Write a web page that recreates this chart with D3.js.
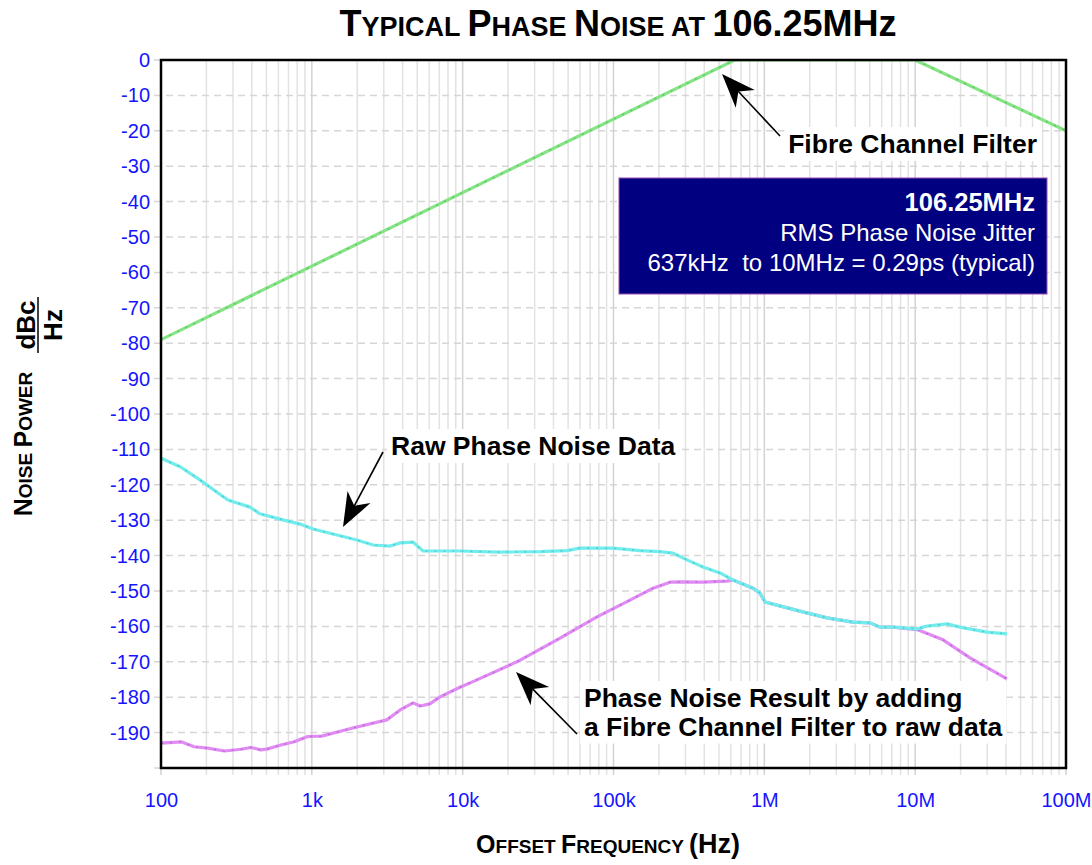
<!DOCTYPE html>
<html>
<head>
<meta charset="utf-8">
<script src="https://d3js.org/d3.v7.min.js"></script>
<style>
  body { margin: 0; background: #fff; }
  text { font-family: "Liberation Sans", Arial, Helvetica, sans-serif; }
</style>
</head>
<body>
<svg id="chart" width="1092" height="865"></svg>
<script>
    // raw phase noise data (cyan)
    const rawFreq = [100, 134, 181, 239, 278, 389, 453, 615, 835, 1020,
        1380, 1990, 2550, 3300, 3850, 4690, 5460, 9600, 17700, 32600,
        49200, 60000, 99300, 150000, 203000, 248000, 307000, 392000, 508000, 620000,
        841000, 936000, 1010000, 1210000, 1800000, 2600000, 3870000, 5020000, 5850000, 7130000,
        10300000, 12000000, 16300000, 19800000, 29900000, 40600000];
    const rawDb = [-112.5, -114.9, -118.6, -122.3, -124.3, -126.3, -128.2, -129.7, -131.1, -132.5,
        -133.9, -135.6, -137.0, -137.3, -136.4, -136.2, -138.7, -138.7, -139.0, -138.9,
        -138.6, -137.9, -137.9, -138.6, -138.9, -139.3, -141.2, -143.2, -144.9, -146.9,
        -149.2, -150.6, -153.1, -154.0, -155.9, -157.6, -158.8, -159.0, -160.2, -160.2,
        -160.7, -159.9, -159.3, -160.2, -161.6, -162.1];

    // result after the fibre channel filter (magenta)
    const resultFreq = [100, 136, 166, 204, 263, 339, 395, 460, 510, 624,
        765, 940, 1160, 1870, 3140, 3850, 4690, 5220, 6050, 7080,
        9600, 11700, 22900, 42200, 77800, 123000, 183000, 237000, 276000, 392000,
        565000, 620000, 841000, 936000, 1010000, 1210000, 1800000, 2600000, 3870000, 5020000,
        5850000, 7130000, 10300000, 15300000, 23100000, 40600000];
    const resultDb = [-193.0, -192.6, -194.0, -194.4, -195.2, -194.7, -194.2, -194.9, -194.6, -193.5,
        -192.6, -191.1, -191.0, -188.7, -186.4, -183.6, -181.6, -182.5, -181.9, -179.9,
        -177.2, -175.6, -170.0, -163.8, -157.3, -153.0, -149.2, -147.5, -147.4, -147.5,
        -147.2, -146.9, -149.2, -150.6, -153.1, -154.0, -155.9, -157.6, -158.8, -159.0,
        -160.2, -160.2, -160.9, -163.8, -168.9, -174.8];

    // fibre channel filter mask (green)
    const filterFreq = [100, 637000, 10000000, 100000000];
    const filterDb = [-79, 0, 0, -20];

    const yTicks = [0, -10, -20, -30, -40, -50, -60, -70, -80, -90, -100,
        -110, -120, -130, -140, -150, -160, -170, -180, -190];
    const xTickValues = [1e2, 1e3, 1e4, 1e5, 1e6, 1e7, 1e8];
    const xTickLabels = ["100", "1k", "10k", "100k", "1M", "10M", "100M"];

    // layout
    const margin = {top: 60, right: 26, bottom: 97, left: 161};
    const svg = d3.select("#chart"),
        width = +svg.attr("width") - margin.left - margin.right,
        height = +svg.attr("height") - margin.top - margin.bottom;

    const x = d3.scaleLog().domain([1e2, 1e8]).range([0, width]);
    const y = d3.scaleLinear().domain([-200, 0]).range([height, 0]);

    const g = svg.append("g")
        .attr("transform", "translate(" + margin.left + "," + margin.top + ")");

    svg.append("defs").append("clipPath").attr("id", "plotClip")
        .append("rect").attr("width", width).attr("height", height);

    // grid: vertical lines at 1..9 of every decade
    var minor = [];
    for (var e = 2; e < 8; e++) {
        for (var m = 1; m < 10; m++) minor.push(m * Math.pow(10, e));
    }
    minor.push(1e8);
    g.append("g").selectAll("line")
        .data(minor)
        .enter().append("line")
        .attr("x1", d => x(d)).attr("x2", d => x(d))
        .attr("y1", 0).attr("y2", height + 7)
        .attr("stroke", d => (Math.log10(d) % 1 === 0) ? "#d2d2d2" : "#e2e2e2")
        .attr("stroke-width", 1.5);

    // grid: horizontal dashed lines every 10 dB
    g.append("g").selectAll("line")
        .data(d3.range(-200, 1, 10))
        .enter().append("line")
        .attr("x1", -7).attr("x2", width)
        .attr("y1", d => y(d)).attr("y2", d => y(d))
        .attr("stroke", "#d6d6d6")
        .attr("stroke-width", 1.5)
        .attr("stroke-dasharray", "7,5");

    // curves
    function series(fr, db) {
        return fr.map((f, i) => [f, db[i]]);
    }
    const line = d3.line().x(d => x(d[0])).y(d => y(d[1]));
    const curves = [
        {data: series(filterFreq, filterDb), light: "#86e486", dark: "#45b845"},
        {data: series(resultFreq, resultDb), light: "#e08cf2", dark: "#a64fd0"},
        {data: series(rawFreq, rawDb), light: "#72ecec", dark: "#34bcbc"}
    ];
    const lines = g.append("g").attr("clip-path", "url(#plotClip)");
    curves.forEach(function (c) {
        lines.append("path").datum(c.data)
            .attr("d", line).attr("fill", "none")
            .attr("stroke", c.light).attr("stroke-width", 3.2)
            .attr("stroke-linejoin", "round");
        lines.append("path").datum(c.data)
            .attr("d", line).attr("fill", "none")
            .attr("stroke", c.dark).attr("stroke-width", 1.6)
            .attr("stroke-opacity", 0.55)
            .attr("stroke-dasharray", "2,7");
    });

    // frame
    g.append("rect").attr("width", width).attr("height", height)
        .attr("fill", "none").attr("stroke", "#000").attr("stroke-width", 2.5);

    // axes
    const yAxis = g.append("g")
        .call(d3.axisLeft(y).tickValues(yTicks).tickSize(0).tickPadding(11)
            .tickFormat(d => String(d)));
    const xAxis = g.append("g").attr("transform", "translate(0," + height + ")")
        .call(d3.axisBottom(x).tickValues(xTickValues).tickSize(0).tickPadding(25)
            .tickFormat((d, i) => xTickLabels[i]));
    [yAxis, xAxis].forEach(function (a) {
        a.select(".domain").remove();
        a.selectAll("text")
            .attr("fill", "#1414ff")
            .style("font-size", "20px")
            .style("font-family", '"Liberation Sans", Arial, sans-serif');
    });

    // small caps helper
    function smallCaps(sel, parts) {
        parts.forEach(function (p) {
            sel.append("tspan").style("font-size", p[1] + "px").text(p[0]);
        });
        return sel;
    }

    // title
    smallCaps(svg.append("text")
        .attr("x", 618).attr("y", 36)
        .attr("text-anchor", "middle").attr("font-weight", "bold"),
        [["T", 36], ["YPICAL ", 27], ["P", 36], ["HASE ", 27], ["N", 36], ["OISE ", 27],
            ["AT ", 27], ["106.25MHz", 36]]);

    // x axis title
    smallCaps(svg.append("text")
        .attr("x", 608).attr("y", 853)
        .attr("text-anchor", "middle").attr("font-weight", "bold"),
        [["O", 25], ["FFSET ", 19], ["F", 25], ["REQUENCY ", 19], ["(Hz)", 27]]);

    // y axis title
    smallCaps(svg.append("text")
        .attr("transform", "translate(32,444) rotate(-90)")
        .attr("text-anchor", "middle").attr("font-weight", "bold"),
        [["N", 25], ["OISE ", 19], ["P", 25], ["OWER", 19]]);
    svg.append("text")
        .attr("transform", "translate(35,325) rotate(-90)")
        .attr("text-anchor", "middle").attr("font-weight", "bold")
        .style("font-size", "26px").text("dBc");
    svg.append("line")
        .attr("x1", 38).attr("x2", 38).attr("y1", 297).attr("y2", 353)
        .attr("stroke", "#000").attr("stroke-width", 1.5);
    svg.append("text")
        .attr("transform", "translate(62,325) rotate(-90)")
        .attr("text-anchor", "middle").attr("font-weight", "bold")
        .style("font-size", "26px").text("Hz");

    // info box
    svg.append("rect")
        .attr("x", 619).attr("y", 178).attr("width", 428).attr("height", 116)
        .attr("fill", "#000080").attr("stroke", "#a04ab0").attr("stroke-width", 1);
    const boxLines = [["106.25MHz", 211, "bold", 25.5], ["RMS Phase Noise Jitter", 241, "normal", 24],
        ["637kHz \u00a0to 10MHz = 0.29ps (typical)", 271, "normal", 24]];
    boxLines.forEach(function (b) {
        svg.append("text")
            .attr("x", 1035).attr("y", b[1])
            .attr("text-anchor", "end").attr("fill", "#fff")
            .attr("font-weight", b[2]).style("font-size", b[3] + "px")
            .text(b[0]);
    });

    // callout labels with white backing
    function label(lines, xPos, yPos, anchor) {
        const t = svg.append("text")
            .attr("x", xPos).attr("y", yPos)
            .attr("text-anchor", anchor)
            .attr("font-weight", "bold").style("font-size", "26.5px");
        lines.forEach(function (s, i) {
            t.append("tspan").attr("x", xPos).attr("dy", i === 0 ? 0 : 28.5).text(s);
        });
        const bb = t.node().getBBox();
        svg.insert("rect", function () { return t.node(); })
            .attr("x", bb.x - 4).attr("y", bb.y - 2)
            .attr("width", bb.width + 8).attr("height", bb.height + 4)
            .attr("fill", "#fff");
    }
    label(["Fibre Channel Filter"], 1037, 153, "end");
    label(["Raw Phase Noise Data"], 391, 455, "start");
    label(["Phase Noise Result by adding", "a Fibre Channel Filter to raw data"], 584, 707, "start");

    // arrows
    function arrow(x0, y0, x1, y1) {
        const a = Math.atan2(y1 - y0, x1 - x0);
        const len = 34, half = 13, notch = 24;
        const bx = x1 - len * Math.cos(a), by = y1 - len * Math.sin(a);
        const nx = x1 - notch * Math.cos(a), ny = y1 - notch * Math.sin(a);
        svg.append("line")
            .attr("x1", x0).attr("y1", y0).attr("x2", nx).attr("y2", ny)
            .attr("stroke", "#000").attr("stroke-width", 1.6);
        const pts = [[x1, y1],
            [bx + half * Math.sin(a), by - half * Math.cos(a)],
            [nx, ny],
            [bx - half * Math.sin(a), by + half * Math.cos(a)]];
        svg.append("path")
            .attr("d", d3.line()(pts) + "Z")
            .attr("fill", "#000");
    }
    arrow(780, 136, 722, 74);
    arrow(383, 452, 343, 527);
    arrow(577, 734, 516, 672);
</script>
</body>
</html>
